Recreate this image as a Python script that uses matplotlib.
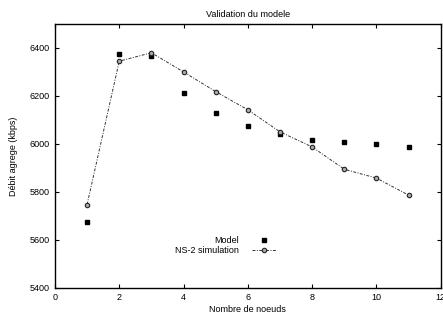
import matplotlib
matplotlib.use('Agg')
import matplotlib.pyplot as plt

plt.rcParams['font.family'] = ['Liberation Sans', 'DejaVu Sans']

noeuds = [1, 2, 3, 4, 5, 6, 7, 8, 9, 10, 11]
model = [5672, 6376, 6365, 6211, 6129, 6075, 6043, 6017, 6008, 6000, 5987]
ns2 = [5747, 6345, 6380, 6300, 6218, 6142, 6050, 5987, 5894, 5857, 5786]

fig = plt.figure(figsize=(4.43, 3.2), dpi=100)
ax = fig.add_axes([0.124, 0.101, 0.871, 0.824])

ax.plot(noeuds, model, linestyle='none', marker='s', markersize=3.2,
        color='black', label='Model')
ax.plot(noeuds, ns2, linestyle=(0, (3, 1.5, 1, 1.5)), linewidth=0.7, color='#333333',
        marker='o', markersize=3.2, markerfacecolor='#aaaaaa',
        markeredgecolor='#222222', markeredgewidth=0.8, label='NS-2 simulation')

ax.set_xlim(0, 12)
ax.set_ylim(5400, 6500)
ax.set_xticks(range(0, 13, 2))
ax.set_yticks(range(5400, 6401, 200))
ax.tick_params(direction='in', length=3, width=0.8, labelsize=6.5,
               top=True, right=True, pad=4)
for s in ax.spines.values():
    s.set_linewidth(1.0)

ax.set_title('Validation du modele', fontsize=6.5, pad=5)
ax.set_xlabel('Nombre de noeuds', fontsize=6.5, labelpad=2)
ax.set_ylabel('Débit agrege (kbps)', fontsize=6.5, labelpad=8)

ax.legend(loc='center', bbox_to_anchor=(0.442, 0.16), frameon=False, fontsize=6.5,
          markerfirst=False, handlelength=2.7, handletextpad=1.5,
          labelspacing=0.1, borderpad=0)
leg = ax.get_legend()
for t in leg.get_texts():
    t.set_ha('right')

plt.savefig('out.png', dpi=100)
